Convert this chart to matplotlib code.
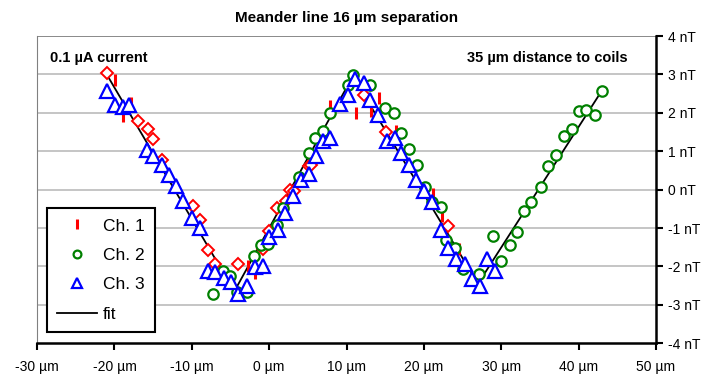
import matplotlib
matplotlib.use('Agg')
import matplotlib.pyplot as plt
from matplotlib.ticker import FuncFormatter

plt.rcParams['font.family'] = ['Liberation Sans', 'DejaVu Sans']

# Ch. 1 (red bars)
ch1_x = [-19.9, -18.9, -17.9, -2.7, -1.8, 7.9, 11.2, 13.2, 14.2, 16.4, 17.8, 21.2, 22.3, 24.6]
ch1_y = [2.86, 1.93, 2.26, -1.98, -2.17, 2.17, 2.0, 2.04, 2.39, 1.52, 0.65, -0.11, -0.69, -1.56]

# red diamonds (plotted with Ch. 1 colour, not in legend)
dia_x = [-21.0, -17.0, -15.7, -15.0, -13.8, -9.8, -8.9, -7.9, -7.0, -4.0, -0.8, 0.0, 1.0,
         2.2, 2.7, 3.2, 5.1, 5.4, 12.2, 15.1, 23.1]
dia_y = [3.04, 1.8, 1.58, 1.32, 0.76, -0.43, -0.8, -1.58, -1.93, -1.95, -1.56, -1.09, -0.48,
         -0.3, 0.0, -0.04, 0.61, 0.63, 2.47, 1.49, -0.94]

# Ch. 2 (green circles)
ch2_x = [-7.2, -6.0, -5.1, -4.1, -2.9, -2.0, -1.1, -0.1, 1.0, 1.8, 3.9, 5.1, 5.9, 7.0, 7.9,
         10.2, 10.9, 13.0, 15.0, 16.1, 17.1, 18.1, 19.1, 20.1, 21.0, 22.2, 22.9, 24.0, 25.1,
         27.1, 29.0, 30.0, 31.1, 32.0, 33.0, 33.9, 35.1, 36.1, 37.1, 38.1, 39.1, 40.1, 41.0,
         42.1, 43.0]
ch2_y = [-2.73, -2.13, -2.24, -2.67, -2.67, -1.74, -1.43, -1.41, -0.91, -0.48, 0.33, 0.96,
         1.35, 1.54, 2.0, 2.73, 2.99, 2.73, 2.13, 2.0, 1.48, 1.06, 0.63, 0.06, -0.31, -0.45,
         -1.3, -1.52, -2.08, -2.21, -1.22, -1.87, -1.43, -1.11, -0.56, -0.33, 0.07, 0.61, 0.89,
         1.39, 1.58, 2.04, 2.08, 1.95, 2.56]

# Ch. 3 (blue triangles)
ch3_x = [-21.0, -19.9, -18.9, -18.1, -15.8, -15.0, -13.8, -12.9, -12.0, -11.1, -10.0, -9.0,
         -7.9, -7.0, -5.9, -5.0, -4.0, -2.9, -1.8, -0.8, 0.0, 1.1, 2.0, 3.1, 4.1, 5.2, 6.0,
         7.0, 7.9, 9.1, 10.2, 11.1, 12.2, 13.0, 14.1, 15.2, 16.3, 17.1, 18.1, 19.0, 20.0,
         21.1, 22.2, 23.1, 24.1, 25.3, 26.2, 27.2, 28.1, 29.2]
ch3_y = [2.56, 2.21, 2.14, 2.21, 1.04, 0.87, 0.63, 0.39, 0.1, -0.3, -0.74, -1.0, -2.13, -2.14,
         -2.3, -2.41, -2.73, -2.52, -2.01, -1.98, -1.23, -1.04, -0.61, -0.16, 0.26, 0.42, 0.87,
         1.26, 1.35, 2.24, 2.47, 2.88, 2.78, 2.34, 1.95, 1.26, 1.35, 0.96, 0.63, 0.24, -0.04,
         -0.33, -1.04, -1.52, -1.82, -1.95, -2.34, -2.52, -1.82, -2.13]

# fit (triangle wave vertices)
fit_x = [-21.0, -4.5, 10.8, 27.0, 42.6]
fit_y = [3.0, -2.65, 2.95, -2.45, 2.45]

fig = plt.figure(figsize=(7.28, 3.8), dpi=100)
ax = fig.add_axes([0.051, 0.097, 0.850, 0.808])

for yv in range(-3, 4):
    ax.axhline(yv, color='#c0c0c0', lw=1.3, zorder=0)
ax.axhline(4, color='#808080', lw=1.3, zorder=0)

ax.plot(fit_x, fit_y, color='black', lw=1.3, zorder=1, label='fit')
ax.plot(dia_x, dia_y, ls='none', marker='D', ms=6, mfc='white', mec='red', mew=1.4, zorder=2)
ax.plot(ch1_x, ch1_y, ls='none', marker='|', ms=9, mec='red', mew=2.2, zorder=3, label='Ch. 1')
ax.plot(ch2_x, ch2_y, ls='none', marker='o', ms=7.5, mfc='white', mec='green', mew=1.6,
        zorder=4, label='Ch. 2')
ax.plot(ch3_x, ch3_y, ls='none', marker='^', ms=9.5, mfc='white', mec='blue', mew=1.6,
        zorder=5, label='Ch. 3')

ax.set_xlim(-30, 50)
ax.set_ylim(-4, 4)
ax.set_xticks(range(-30, 51, 10))
ax.set_yticks(range(-4, 5))
ax.xaxis.set_major_formatter(FuncFormatter(lambda v, p: '%d µm' % v))
ax.yaxis.set_major_formatter(FuncFormatter(lambda v, p: '%d nT' % v))
ax.yaxis.tick_right()
ax.tick_params(axis='both', labelsize=10, length=5, width=1.5, direction='out', color='black')
ax.tick_params(axis='x', pad=7)

ax.spines['top'].set_visible(False)
ax.spines['left'].set_color('#808080')
ax.spines['left'].set_linewidth(0.8)
ax.spines['bottom'].set_linewidth(1.8)
ax.spines['right'].set_linewidth(1.8)

ax.set_title('Meander line 16 µm separation', fontsize=11, fontweight='bold', pad=10)
ax.text(0.021, 0.93, '0.1 µA current', transform=ax.transAxes, fontsize=10.5,
        fontweight='bold', ha='left', va='center')
ax.text(0.955, 0.93, '35 µm distance to coils', transform=ax.transAxes, fontsize=10.5,
        fontweight='bold', ha='right', va='center')

handles, labels = ax.get_legend_handles_labels()
order = [1, 2, 3, 0]
leg = ax.legend([handles[i] for i in order], [labels[i] for i in order],
                loc='lower left', bbox_to_anchor=(0.016, 0.036), fontsize=12.5,
                frameon=True, fancybox=False, edgecolor='black', framealpha=1,
                handlelength=2.3, borderpad=0.6, labelspacing=0.82, handletextpad=0.3,
                markerscale=0.75, borderaxespad=0)
leg.get_frame().set_linewidth(1.5)

fig.savefig('out.png', dpi=100)
